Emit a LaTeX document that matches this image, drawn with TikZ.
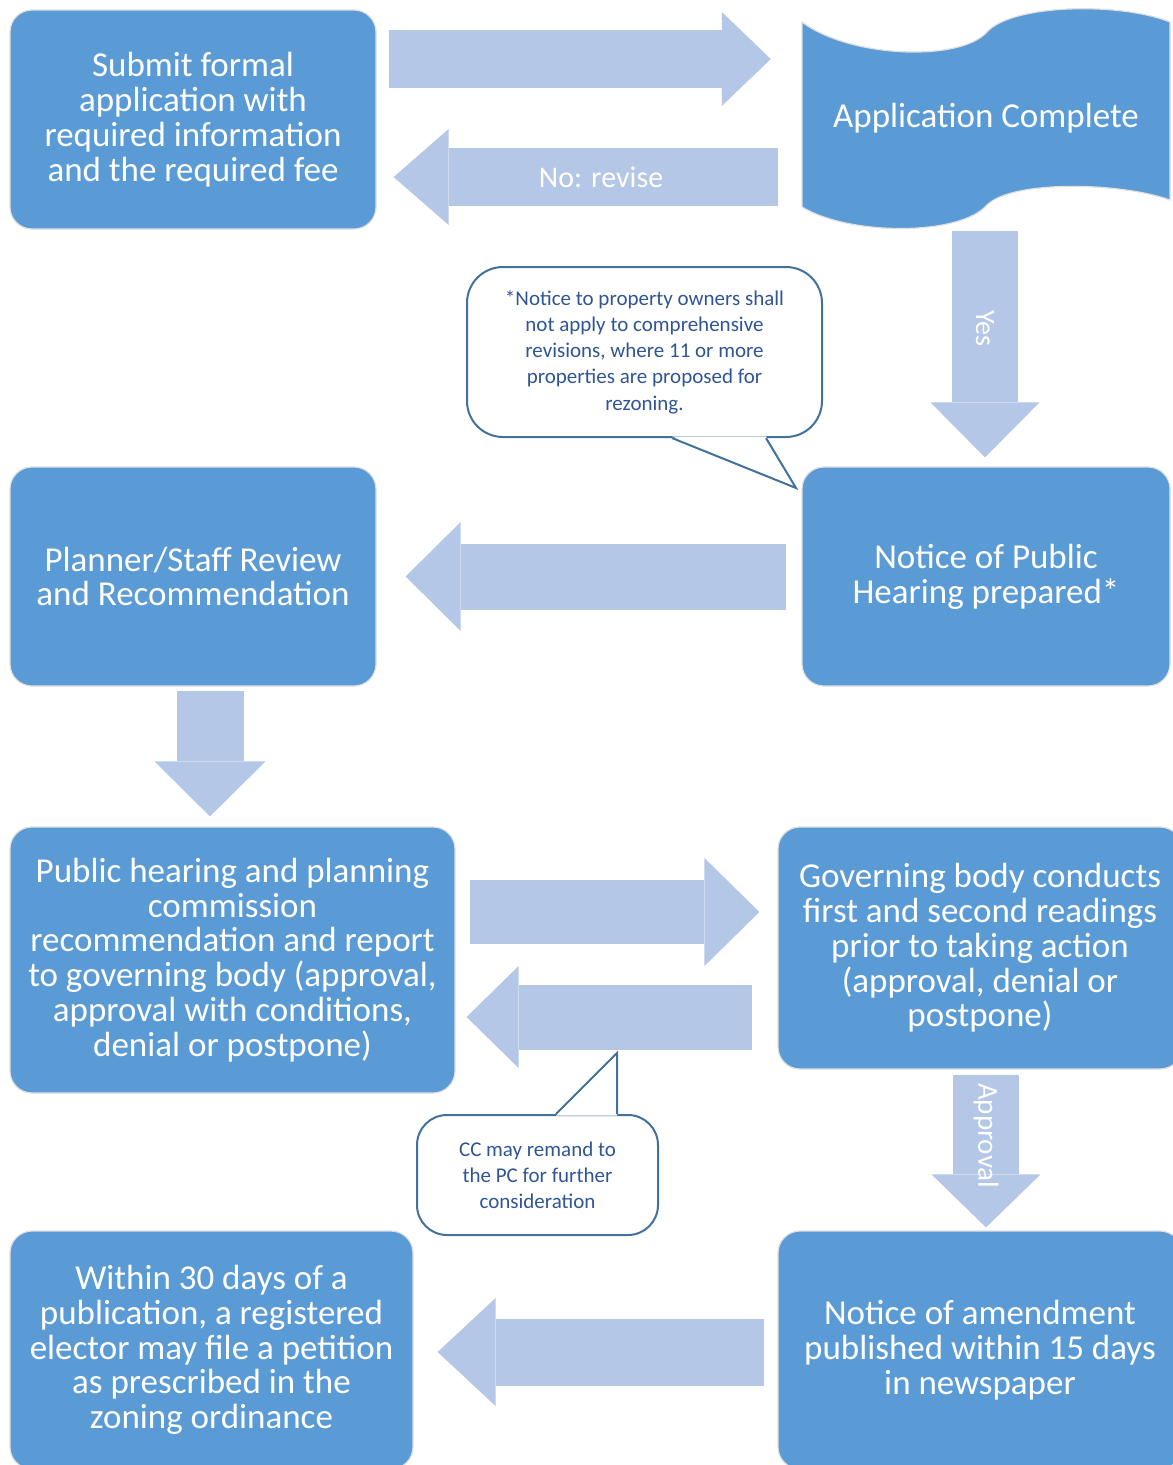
\documentclass[tikz,border=0pt]{standalone}
\usepackage{fontspec}
\setmainfont{Carlito}
\usepackage{tikz}
\usetikzlibrary{positioning, arrows.meta, calc}

\definecolor{boxblue}{HTML}{5B9BD5}
\definecolor{arrowblue}{HTML}{B4C7E7}
\definecolor{noteblue}{HTML}{41719C}
\definecolor{notetext}{HTML}{2F5597}

\tikzset{
    stepbox/.style={draw=gray!25, line width=1.2pt, fill=boxblue, rounded corners=22pt,
        text=white, align=center, inner sep=0pt, font={\fontsize{35}{34.8}\selectfont}},
    notebox/.style={draw=noteblue, line width=2pt, text=notetext, align=center, inner sep=0pt,
        font={\fontsize{21}{26.2}\selectfont}},
    noteline/.style={draw=noteblue, line width=2pt},
    bigarrow/.style n args={3}{draw=arrowblue, line width=#1, -{Triangle[length=#2, width=#3, line width=0pt]}},
    arrowtext/.style={text=white, font={\fontsize{30}{32}\selectfont}},
}

\begin{document}
\begin{tikzpicture}[x=1pt, y=-1pt]
    \useasboundingbox (0,0) rectangle (1173,1465);

    % Etapes
    \node[stepbox, minimum width=366pt, minimum height=219pt] (submit) at (193,119.5)
        {Submit formal\\application with\\required information\\and the required fee};
    \draw[fill=boxblue, draw=gray!25, line width=1.2pt] (802,22)
        .. controls (850,58) and (960,62) .. (987,32)
        .. controls (1012,4) and (1120,2) .. (1170,22) -- (1170,200)
        .. controls (1120,182) and (1012,180) .. (987,205)
        .. controls (960,236) and (850,236) .. (802,207) -- cycle;
    \node[text=white, font={\fontsize{35}{34.8}\selectfont}, minimum width=368pt, minimum height=220pt,
        inner sep=0pt] (complete) at (986,118) {Application Complete};
    \node[stepbox, minimum width=368pt, minimum height=219pt] (notice) at (986,576.5)
        {Notice of Public\\Hearing prepared*};
    \node[stepbox, minimum width=366pt, minimum height=219pt] (review) at (193,576.5)
        {Planner/Staff Review\\and Recommendation};
    \node[stepbox, minimum width=445pt, minimum height=266pt] (hearing) at (232.5,960)
        {Public hearing and planning\\commission\\recommendation and report\\to governing body (approval,\\approval with conditions,\\denial or postpone)};
    \node[stepbox, minimum width=404pt, minimum height=242pt] (governing) at (980,948)
        {Governing body conducts\\first and second readings\\prior to taking action\\(approval, denial or\\postpone)};
    \node[stepbox, minimum width=403pt, minimum height=238pt] (within) at (211.5,1350)
        {Within 30 days of a\\publication, a registered\\elector may file a petition\\as prescribed in the\\zoning ordinance};
    \node[stepbox, minimum width=404pt, minimum height=238pt] (amend) at (980,1350)
        {Notice of amendment\\published within 15 days\\in newspaper};

    % Fleches
    \draw[bigarrow={58pt}{49pt}{94pt}] ($(submit.east)+(12,-60.5)$) -- ($(complete.west)+(-31,-59)$);
    \draw[bigarrow={58pt}{55pt}{96pt}] ($(complete.west)+(-24,59)$) -- ($(submit.east)+(17,57.5)$)
        node[pos=0.46, arrowtext] {No: revise};
    \draw[bigarrow={66pt}{55pt}{109pt}] ($(complete.south)+(-1,3)$) -- ($(notice.north)+(-1,-9)$)
        node[pos=0.43, arrowtext, rotate=-90, font={\fontsize{28}{30}\selectfont}] {Yes};
    \draw[bigarrow={66pt}{55pt}{109pt}] ($(notice.west)+(-15,0)$) -- ($(review.east)+(29,0)$);
    \draw[bigarrow={67pt}{55pt}{111pt}] ($(review.south)+(17,4)$) -- ($(hearing.north)+(-22.5,-10)$);
    \draw[bigarrow={64pt}{55pt}{108pt}] ($(hearing.east)+(14,-48)$) -- ($(governing.west)+(-18,-36)$);
    \draw[bigarrow={65pt}{52pt}{102pt}] ($(governing.west)+(-25,69)$) -- ($(hearing.east)+(11,57)$);
    \draw[bigarrow={66pt}{53pt}{109pt}] ($(governing.south)+(6,5)$) -- ($(amend.north)+(6,-3)$)
        node[pos=0.40, arrowtext, rotate=-90, font={\fontsize{29}{30}\selectfont}] {Approval};
    \draw[bigarrow={67pt}{58pt}{108pt}] ($(amend.west)+(-13,2)$) -- ($(within.east)+(24,2)$);

    % Bulles
    \node[notebox, rounded corners=36pt, minimum width=355pt, minimum height=170pt] (note1) at (644.5,352)
        {*Notice to property owners shall\\not apply to comprehensive\\revisions, where 11 or more\\properties are proposed for\\rezoning.};
    \coordinate (note1tip) at (796,488);
    \fill[white] ($(note1.south west)+(206,-1.6)$) -- (note1tip) -- ($(note1.south east)+(-57,-1.6)$) -- cycle;
    \draw[noteline] ($(note1.south west)+(206,0)$) -- (note1tip) -- ($(note1.south east)+(-57,0)$);

    \node[notebox, rounded corners=30pt, minimum width=241pt, minimum height=120pt] (note2) at (537.5,1175)
        {CC may remand to\\the PC for further\\consideration};
    \coordinate (note2tip) at (617,1053);
    \fill[white] ($(note2.north west)+(140,1.6)$) -- (note2tip) -- ($(note2.north west)+(201,1.6)$) -- cycle;
    \draw[noteline] ($(note2.north west)+(140,0)$) -- (note2tip) -- ($(note2.north west)+(201,0)$);
\end{tikzpicture}
\end{document}
